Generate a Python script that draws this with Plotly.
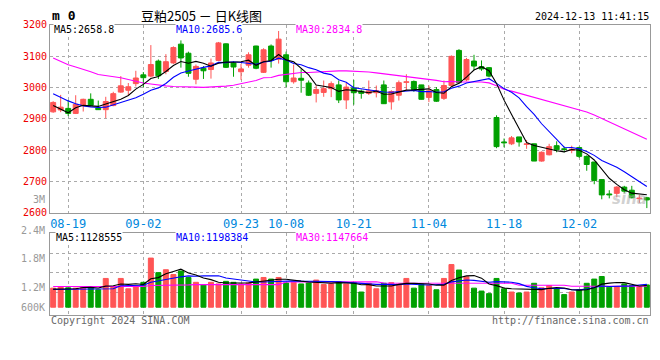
import plotly.graph_objects as go
import pandas as pd

# ---------------- data ----------------
dates = ["08-15", "08-16",
         "08-19", "08-20", "08-21", "08-22", "08-23",
         "08-26", "08-27", "08-28", "08-29", "08-30",
         "09-02", "09-03", "09-04", "09-05", "09-06",
         "09-09", "09-10", "09-11", "09-12", "09-13",
         "09-18", "09-19", "09-20",
         "09-23", "09-24", "09-25", "09-26", "09-27",
         "09-30",
         "10-08", "10-09", "10-10", "10-11",
         "10-14", "10-15", "10-16", "10-17", "10-18",
         "10-21", "10-22", "10-23", "10-24", "10-25",
         "10-28", "10-29", "10-30", "10-31", "11-01",
         "11-04", "11-05", "11-06", "11-07", "11-08",
         "11-11", "11-12", "11-13", "11-14", "11-15",
         "11-18", "11-19", "11-20", "11-21", "11-22",
         "11-25", "11-26", "11-27", "11-28", "11-29",
         "12-02", "12-03", "12-04", "12-05", "12-06",
         "12-09", "12-10", "12-11", "12-12", "12-13"]

opens = [2922, 2928, 2933, 2917, 2942, 2962, 2934, 2929, 2942, 2985,
         2991, 3012, 3040, 3036, 3084, 3051, 3078, 3138, 3109, 3026,
         3061, 3057, 3086, 3139, 3078, 3050, 3071, 3132, 3048, 3132,
         3090, 3104, 3018, 3029, 3014, 2981, 2984, 2996, 3008, 2960,
         2998, 2988, 2981, 2983, 3008, 2954, 2975, 3016, 3019, 3008,
         2968, 2993, 2965, 3006, 3118, 3024, 3084, 3066, 3063, 2904,
         2826, 2820, 2842, 2818, 2820, 2765, 2785, 2814, 2804, 2799,
         2808, 2780, 2762, 2706, 2660, 2662, 2682, 2672, 2645, 2648]
highs = [2956, 2976, 2960, 2975, 2964, 2981, 2958, 2970, 2986, 3036,
         3014, 3053, 3049, 3135, 3089, 3106, 3131, 3150, 3114, 3073,
         3068, 3092, 3145, 3140, 3083, 3075, 3112, 3133, 3125, 3137,
         3180, 3114, 3073, 3058, 3022, 3006, 3022, 3019, 3022, 3014,
         3024, 2993, 3022, 3006, 3022, 2991, 3022, 3042, 3022, 3008,
         3006, 3001, 3022, 3102, 3122, 3094, 3104, 3086, 3065, 2911,
         2837, 2845, 2842, 2832, 2820, 2796, 2820, 2828, 2811, 2814,
         2811, 2783, 2762, 2706, 2672, 2685, 2686, 2686, 2657, 2651]
lows = [2919, 2921, 2909, 2915, 2923, 2941, 2929, 2902, 2940, 2983,
        2976, 3003, 3001, 3032, 3027, 3042, 3075, 3063, 3034, 3010,
        3027, 3028, 3084, 3062, 3034, 3024, 3063, 3058, 3046, 3063,
        3076, 3001, 3012, 2983, 2973, 2952, 2970, 2969, 2950, 2931,
        2945, 2964, 2976, 2968, 2947, 2929, 2958, 2991, 2986, 2962,
        2953, 2954, 2960, 3001, 3012, 3020, 3055, 3053, 3032, 2806,
        2809, 2816, 2811, 2804, 2765, 2763, 2783, 2793, 2793, 2790,
        2775, 2734, 2691, 2643, 2646, 2649, 2662, 2646, 2631, 2615]
closes = [2952, 2937, 2917, 2946, 2962, 2943, 2929, 2955, 2980, 3005,
          3002, 3030, 3031, 3073, 3037, 3082, 3127, 3094, 3045, 3067,
          3053, 3078, 3142, 3064, 3065, 3059, 3104, 3061, 3120, 3086,
          3154, 3018, 3030, 3023, 2975, 2993, 2996, 3012, 2960, 3001,
          2983, 2981, 2989, 2989, 2948, 2987, 3015, 3018, 2993, 2962,
          2989, 2956, 3006, 3099, 3015, 3089, 3068, 3059, 3036, 2811,
          2823, 2839, 2826, 2820, 2765, 2793, 2811, 2801, 2802, 2803,
          2780, 2754, 2703, 2657, 2657, 2682, 2669, 2648, 2647, 2641]

volumes = [1190000, 1240000, 1200000, 1190000, 1220000, 1220000, 1140000, 1490000, 1240000, 1490000,
           1170000, 1250000, 1370000, 2120000, 1670000, 1760000, 1610000, 1720000, 1520000, 1370000,
           1290000, 1370000, 1320000, 1400000, 1370000, 1320000, 1350000, 1470000, 1520000, 1470000,
           1520000, 1350000, 1370000, 1320000, 1350000, 1440000, 1300000, 1320000, 1390000, 1320000,
           1370000, 1070000, 1340000, 1170000, 1340000, 1360000, 1320000, 1490000, 1190000, 1320000,
           1270000, 1140000, 1490000, 1920000, 1750000, 1540000, 1190000, 1100000, 1020000, 1490000,
           1170000, 1070000, 1040000, 1070000, 1340000, 1200000, 1270000, 1170000, 990000, 1070000,
           1140000, 1340000, 1470000, 1550000, 1220000, 1240000, 1320000, 1270000, 1240000, 1290000]

# moving-average values before enough bars are on the chart
ma5_lead = [2942, 2931, 2919, 2935]
ma10_lead = [2980, 2968, 2957, 2948, 2941, 2938, 2936, 2937, 2944]
ma30_lead = [3094, 3084, 3072, 3065, 3058, 3050, 3041, 3038, 3035, 3031,
             3025, 3019, 3014, 3011, 3007, 3005, 3003, 3003, 3002, 3001,
             3000, 3001, 3002, 3004, 3007, 3012, 3016, 3022, 3031]
vma5_lead = [1160000, 1170000, 1170000, 1170000]
vma10_lead = [1150000, 1150000, 1150000, 1150000, 1150000, 1160000, 1160000, 1160000, 1170000]
vma30 = [
    1240000, 1240000, 1240000, 1240000, 1240000, 1240000, 1240000, 1240000, 1240000, 1240000,
    1240000, 1240000, 1240000, 1270000, 1270000, 1270000, 1270000, 1290000, 1290000, 1300000,
    1300000, 1300000, 1300000, 1300000, 1300000, 1300000, 1300000, 1300000, 1300000, 1300000,
    1300000, 1380000, 1380000, 1380000, 1380000, 1380000, 1380000, 1390000, 1390000, 1390000,
    1390000, 1390000, 1390000, 1390000, 1350000, 1350000, 1350000, 1350000, 1350000, 1350000,
    1350000, 1350000, 1350000, 1350000, 1340000, 1340000, 1340000, 1340000, 1340000, 1340000,
    1340000, 1340000, 1280000, 1280000, 1280000, 1280000, 1280000, 1280000, 1280000, 1250000,
    1250000, 1250000, 1250000, 1250000, 1250000, 1250000, 1250000, 1250000, 1250000, 1250000]

date_ticks = ["08-19", "09-02", "09-23", "10-08", "10-21", "11-04", "11-18", "12-02"]
price_ticks = [2600, 2700, 2800, 2900, 3000, 3100, 3200]

title_text = "豆粕2505 － 日K线图"
stamp_text = "2024-12-13 11:41:15"
ma_text = ["MA5:2658.8", "MA10:2685.6", "MA30:2834.8"]
vma_text = ["MA5:1128555", "MA10:1198384", "MA30:1147664"]
vol_tick_text = ["2.4M", "1.8M", "1.2M", "600K"]

# ---------------- styling ----------------
W, H = 660, 360
UP, DOWN = "#ff5555", "#00a000"
GRID = "#aaaaaa"
FRAME = "#999999"
MONO = "DejaVu Sans Mono"
VBASE = 600000


def px(x):
    return x / W


def py(y):
    return 1 - y / H


def rolling_with_lead(vals, n, lead):
    s = pd.Series(vals, dtype=float).rolling(n).mean()
    out = s.tolist()
    out[:n - 1] = lead
    return out


ma5 = rolling_with_lead(closes, 5, ma5_lead)
ma10 = rolling_with_lead(closes, 10, ma10_lead)
ma30 = rolling_with_lead(closes, 30, ma30_lead)
vma5 = rolling_with_lead(volumes, 5, vma5_lead)
vma10 = rolling_with_lead(volumes, 10, vma10_lead)

colors = [UP if c >= o else DOWN for o, c in zip(opens, closes)]

fig = go.Figure()

# wicks
for col in (UP, DOWN):
    wx, wy = [], []
    for d, o, h, l, c, k in zip(dates, opens, highs, lows, closes, colors):
        if k == col:
            wx += [d, d, None]
            wy += [l, h, None]
    fig.add_trace(go.Scatter(x=wx, y=wy, mode="lines", line=dict(color=col, width=1),
                             hoverinfo="skip", xaxis="x", yaxis="y"))

# bodies
body_low = [min(o, c) for o, c in zip(opens, closes)]
body_h = [max(abs(c - o), 0.5) for o, c in zip(opens, closes)]
fig.add_trace(go.Bar(x=dates, y=body_h, base=body_low, width=0.66,
                     marker=dict(color=colors, line=dict(color=colors, width=1)),
                     xaxis="x", yaxis="y"))

for vals, col in ((ma30, "#ff00ff"), (ma10, "#0000ff"), (ma5, "#000000")):
    fig.add_trace(go.Scatter(x=dates, y=vals, mode="lines", line=dict(color=col, width=1.1),
                             xaxis="x", yaxis="y"))

# volume
fig.add_trace(go.Bar(x=dates, y=[v - VBASE for v in volumes], base=VBASE, width=0.66,
                     marker=dict(color=colors, line=dict(color=colors, width=1)),
                     xaxis="x2", yaxis="y2"))
for vals, col in ((vma30, "#ff00ff"), (vma10, "#0000ff"), (vma5, "#000000")):
    fig.add_trace(go.Scatter(x=dates, y=vals, mode="lines", line=dict(color=col, width=1.1),
                             xaxis="x2", yaxis="y2"))

xdom = [px(50), px(650)]
xr = [-0.42, len(dates) - 0.58]
common_x = dict(type="category", categoryorder="array", categoryarray=dates, range=xr,
                domain=xdom, tickvals=date_ticks, showgrid=True, gridcolor=GRID,
                griddash="dot", gridwidth=1, showline=True, linecolor=FRAME, linewidth=1,
                mirror=True, ticks="", zeroline=False, fixedrange=True)

fig.update_layout(
    width=W, height=H, autosize=False, margin=dict(l=0, r=0, t=0, b=0),
    paper_bgcolor="white", plot_bgcolor="white", showlegend=False,
    xaxis=dict(common_x, anchor="y", showticklabels=True,
               tickfont=dict(family=MONO, size=12, color="#0088dd")),
    yaxis=dict(domain=[py(213.3), py(19.3)], range=[2600, 3200], tickvals=price_ticks,
               tickfont=dict(family=MONO, size=10, color="#ee0000"), showgrid=True,
               gridcolor=GRID, griddash="dot", showline=True, linecolor=FRAME, mirror=True,
               ticks="", zeroline=False, anchor="x"),
    xaxis2=dict(common_x, anchor="y2", showticklabels=False),
    yaxis2=dict(domain=[py(318.3), py(234.3)], range=[372000, 2892000],
                tickvals=[1062000, 1662000, 2262000], showticklabels=False, showgrid=True,
                gridcolor=GRID, griddash="dot", showline=True, linecolor=FRAME, mirror=True,
                ticks="", zeroline=False, anchor="x2"),
)

ann = []


def text(x, y, s, color="#000000", size=10, family=MONO, xanchor="left", bg=None):
    d = dict(x=px(x), y=py(y), xref="paper", yref="paper", text=s, showarrow=False,
             xanchor=xanchor, yanchor="middle", font=dict(family=family, size=size, color=color),
             borderpad=0)
    if bg:
        d["bgcolor"] = bg
    ann.append(d)


text(51, 10, "<b>m 0</b>", size=13)
text(201, 10, title_text, size=13, family="Noto Sans CJK SC", xanchor="center")
text(650, 11, stamp_text, xanchor="right")
for s, x0, col in zip(ma_text, (53, 175, 295), ("#000000", "#0000ff", "#ff00ff")):
    text(x0, 24, s, color=col, bg="white")
for s, x0, col in zip(vma_text, (55, 175, 295), ("#000000", "#0000ff", "#ff00ff")):
    text(x0, 239, s, color=col, bg="white")
for s, y0 in zip(vol_tick_text, (231.7, 260.7, 290.7, 310.7)):
    text(46, y0, s, color="#999999", xanchor="right")
text(46, 200, "3M", color="#999999", xanchor="right")
text(50, 324, "Copyright 2024 SINA.COM", color="#666666")
text(650, 324, "http://finance.sina.com.cn", color="#666666", xanchor="right")
text(648, 199, "<b><i>sina</i></b>", color="rgba(170,170,170,0.55)", size=15,
     family="DejaVu Sans", xanchor="right")
fig.update_layout(annotations=ann)

fig.write_html("out.html", config={"displayModeBar": False, "responsive": False},
               post_script="document.body.style.margin='0';document.body.style.overflow='hidden';")
